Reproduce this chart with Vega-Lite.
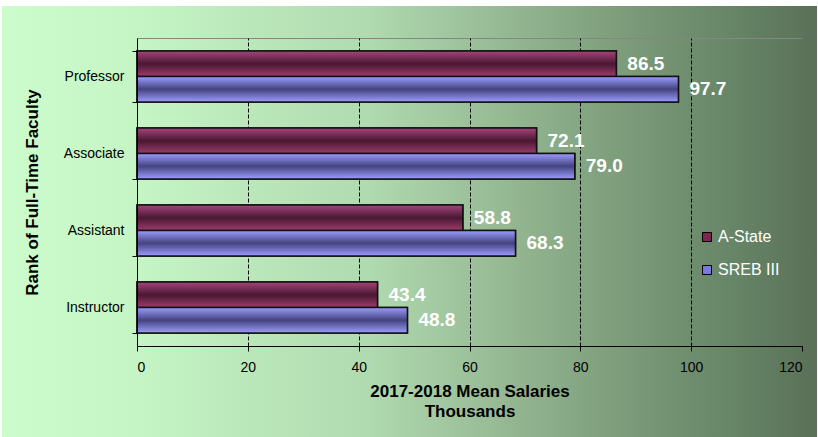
{
  "$schema": "https://vega.github.io/schema/vega-lite/v6.json",
  "width": 665,
  "height": 308,
  "autosize": {"type": "none"},
  "padding": {"left": 137, "top": 38, "right": 16, "bottom": 91},
  "background": "white",
  "view": {
    "stroke": "#868686",
    "strokeWidth": 1,
    "fill": {"gradient": "linear", "x1": -0.203, "y1": 0, "x2": 1.0226, "y2": 0,
      "stops": [
        {"offset": 0, "color": "#ccfccc"},
        {"offset": 0.15, "color": "#c6f6c6"},
        {"offset": 0.45, "color": "#b0dab0"},
        {"offset": 0.6, "color": "#98bc96"},
        {"offset": 0.75, "color": "#7e9e7c"},
        {"offset": 0.9, "color": "#668466"},
        {"offset": 1, "color": "#5a7058"}
      ]}
  },
  "config": {"font": "Liberation Sans"},
  "resolve": {"scale": {"y": "independent"}, "axis": {"x": "independent"}},
  "layer": [
    {
      "data": {"values": [{}]},
      "encoding": {
        "x": {"datum": 0, "type": "quantitative", "scale": {"domain": [0, 120], "nice": false},
          "axis": {"orient": "bottom", "values": [20, 40, 60, 80, 100], "grid": true, "gridColor": "black", "gridDash": [4, 2], "gridWidth": 1,
            "labels": false, "ticks": false, "domain": false, "title": null, "zindex": 0}}
      },
      "layer": [
        {
          "mark": {"type": "rect", "fill": {"gradient": "linear", "x1": 0, "y1": 0, "x2": 6.037, "y2": 0,
            "stops": [
              {"offset": 0, "color": "#ccfccc"},
              {"offset": 0.15, "color": "#c6f6c6"},
              {"offset": 0.45, "color": "#b0dab0"},
              {"offset": 0.6, "color": "#98bc96"},
              {"offset": 0.75, "color": "#7e9e7c"},
              {"offset": 0.9, "color": "#668466"},
              {"offset": 1, "color": "#5a7058"}
            ]}},
          "encoding": {
            "x": {"datum": -24.36, "type": "quantitative", "scale": {"domain": [0, 120], "nice": false}},
            "x2": {"datum": 0},
            "y": {"datum": -0.4156, "type": "quantitative", "scale": {"domain": [0, 4], "reverse": true, "nice": false, "zero": false}, "axis": null},
            "y2": {"datum": 5.2}
          }
        },
        {
          "mark": {"type": "rect", "fill": {"gradient": "linear", "x1": -53.33, "y1": 0, "x2": 1, "y2": 0,
            "stops": [
              {"offset": 0, "color": "#ccfccc"},
              {"offset": 0.15, "color": "#c6f6c6"},
              {"offset": 0.45, "color": "#b0dab0"},
              {"offset": 0.6, "color": "#98bc96"},
              {"offset": 0.75, "color": "#7e9e7c"},
              {"offset": 0.9, "color": "#668466"},
              {"offset": 1, "color": "#5a7058"}
            ]}},
          "encoding": {
            "x": {"datum": 120, "type": "quantitative", "scale": {"domain": [0, 120], "nice": false}},
            "x2": {"datum": 122.71},
            "y": {"datum": -0.4156, "type": "quantitative", "scale": {"domain": [0, 4], "reverse": true, "nice": false, "zero": false}, "axis": null},
            "y2": {"datum": 5.2}
          }
        },
        {
          "mark": {"type": "rect", "fill": {"gradient": "linear", "x1": -0.203, "y1": 0, "x2": 1.0226, "y2": 0,
            "stops": [
              {"offset": 0, "color": "#ccfccc"},
              {"offset": 0.15, "color": "#c6f6c6"},
              {"offset": 0.45, "color": "#b0dab0"},
              {"offset": 0.6, "color": "#98bc96"},
              {"offset": 0.75, "color": "#7e9e7c"},
              {"offset": 0.9, "color": "#668466"},
              {"offset": 1, "color": "#5a7058"}
            ]}},
          "encoding": {
            "x": {"datum": 0, "type": "quantitative", "scale": {"domain": [0, 120], "nice": false}},
            "x2": {"datum": 120},
            "y": {"datum": -0.4156, "type": "quantitative", "scale": {"domain": [0, 4], "reverse": true, "nice": false, "zero": false}, "axis": null},
            "y2": {"datum": 0}
          }
        },
        {
          "mark": {"type": "rect", "fill": {"gradient": "linear", "x1": -0.203, "y1": 0, "x2": 1.0226, "y2": 0,
            "stops": [
              {"offset": 0, "color": "#ccfccc"},
              {"offset": 0.15, "color": "#c6f6c6"},
              {"offset": 0.45, "color": "#b0dab0"},
              {"offset": 0.6, "color": "#98bc96"},
              {"offset": 0.75, "color": "#7e9e7c"},
              {"offset": 0.9, "color": "#668466"},
              {"offset": 1, "color": "#5a7058"}
            ]}},
          "encoding": {
            "x": {"datum": 0, "type": "quantitative", "scale": {"domain": [0, 120], "nice": false}},
            "x2": {"datum": 120},
            "y": {"datum": 4, "type": "quantitative", "scale": {"domain": [0, 4], "reverse": true, "nice": false, "zero": false}, "axis": null},
            "y2": {"datum": 5.2}
          }
        }
      ]
    },
    {
      "data": {"values": [
        {"rank": "Professor", "series": "A-State", "value": 86.5},
        {"rank": "Professor", "series": "SREB III", "value": 97.7},
        {"rank": "Associate", "series": "A-State", "value": 72.1},
        {"rank": "Associate", "series": "SREB III", "value": 79.0},
        {"rank": "Assistant", "series": "A-State", "value": 58.8},
        {"rank": "Assistant", "series": "SREB III", "value": 68.3},
        {"rank": "Instructor", "series": "A-State", "value": 43.4},
        {"rank": "Instructor", "series": "SREB III", "value": 48.8}
      ]},
      "encoding": {
        "y": {
          "field": "rank", "type": "nominal",
          "sort": ["Professor", "Associate", "Assistant", "Instructor"],
          "scale": {"paddingInner": 0.34, "paddingOuter": 0.17},
          "axis": {
            "title": "Rank of Full-Time Faculty",
            "titleFontSize": 17, "titleFontWeight": "bold", "titleColor": "black", "titlePadding": 22,
            "labelFontSize": 14, "labelColor": "black", "labelPadding": 8,
            "tickBand": "extent", "tickSize": 5, "tickColor": "black",
            "domainColor": "black", "domainWidth": 1, "zindex": 1
          }
        },
        "yOffset": {"field": "series", "type": "nominal", "sort": ["A-State", "SREB III"], "scale": {"paddingInner": 0, "paddingOuter": 0}},
        "x": {
          "field": "value", "type": "quantitative",
          "scale": {"domain": [0, 120], "nice": false},
          "axis": {
            "orient": "bottom",
            "values": [0, 20, 40, 60, 80, 100, 120],
            "title": ["2017-2018  Mean Salaries", "Thousands"],
            "titleFontSize": 17, "titleFontWeight": "bold", "titleColor": "black", "titlePadding": 9, "titleLineHeight": 20,
            "labelFontSize": 14, "labelColor": "black", "labelPadding": 9,
            "tickSize": 5, "tickColor": "black",
            "domainColor": "black", "domainWidth": 1,
            "grid": false,
            "zindex": 1
          }
        }
      },
      "layer": [
        {
          "mark": {"type": "bar", "stroke": "#111111", "strokeWidth": 1.5},
          "encoding": {
            "color": {
              "field": "series", "type": "nominal",
              "scale": {"domain": ["A-State", "SREB III"], "range": ["#7c2650", "#7878e0"]},
              "legend": {
                "title": null, "orient": "none", "legendX": 562, "legendY": 191,
                "symbolType": "square", "symbolSize": 81, "symbolStrokeColor": "black", "symbolStrokeWidth": 1,
                "labelColor": "white", "labelFontSize": 16, "labelOffset": 3, "rowPadding": 17, "padding": 0
              }
            }
          }
        },
        {
          "transform": [{"filter": "datum.series == 'A-State'"}],
          "mark": {"type": "bar", "stroke": "#111111", "strokeWidth": 1.5,
            "fill": {"gradient": "linear", "x1": 0, "y1": 0, "x2": 0, "y2": 1,
              "stops": [
                {"offset": 0, "color": "#a4447a"},
                {"offset": 0.5, "color": "#4a1832"},
                {"offset": 1, "color": "#9c3c6e"}
              ]}}
        },
        {
          "transform": [{"filter": "datum.series == 'SREB III'"}],
          "mark": {"type": "bar", "stroke": "#111111", "strokeWidth": 1.5,
            "fill": {"gradient": "linear", "x1": 0, "y1": 0, "x2": 0, "y2": 1,
              "stops": [
                {"offset": 0, "color": "#9c9cff"},
                {"offset": 0.5, "color": "#444480"},
                {"offset": 1, "color": "#9c9cff"}
              ]}}
        },
        {
          "mark": {"type": "text", "align": "left", "baseline": "middle", "dx": 11, "color": "white", "fontSize": 19, "fontWeight": "bold"},
          "encoding": {
            "text": {"field": "value", "type": "quantitative", "format": ".1f"}
          }
        }
      ]
    }
  ]
}
